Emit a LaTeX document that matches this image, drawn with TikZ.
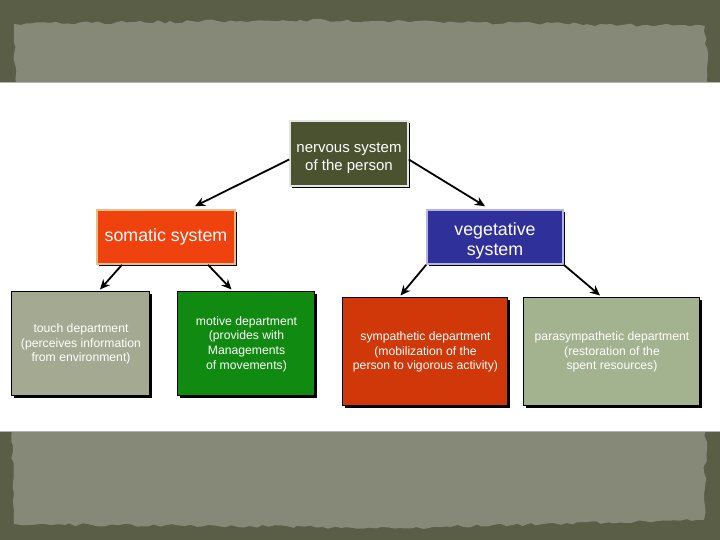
\documentclass[tikz,border=0pt]{standalone}
\usepackage{fontspec}
\setmainfont{Liberation Sans}
\usetikzlibrary{shadows,decorations.pathmorphing,arrows.meta}

\definecolor{frameolive}{HTML}{5A5E47}
\definecolor{paper}{HTML}{868878}
\definecolor{nervousfill}{HTML}{4A5230}
\definecolor{somaticfill}{HTML}{F0420E}
\definecolor{somaticrim}{HTML}{E6BE86}
\definecolor{vegetfill}{HTML}{30309A}
\definecolor{vegetrim}{HTML}{B4B4E6}
\definecolor{touchfill}{HTML}{A3AA91}
\definecolor{motivefill}{HTML}{108A10}
\definecolor{sympfill}{HTML}{D0380A}
\definecolor{parafill}{HTML}{A3B28F}

\tikzset{
    box/.style = {
        rectangle,
        draw        = black,
        line width  = 0.5pt,
        text        = white,
        align       = center,
        inner sep   = 1pt,
        drop shadow = {shadow xshift=0.8pt, shadow yshift=-0.8pt,
                       opacity=1, fill=black},
    },
    bigtext/.style   = {font=\fontsize{8.9}{10}\selectfont},
    midtext/.style   = {font=\fontsize{7.5}{9}\selectfont},
    smalltext/.style = {font=\fontsize{6.1}{7.3}\selectfont},
    link/.style = {->, line width=0.9pt},
    torn/.style = {
        decorate,
        decoration = {random steps, segment length=3pt, amplitude=0.8pt},
    },
}
% pushes the first line of a box a little down
\newcommand{\lowfirst}{\rule{0pt}{10pt}}

\begin{document}
\begin{tikzpicture}[x=0.5pt, y=-0.5pt, >={Stealth[length=5pt,width=4.5pt]}]
  % page is 720 x 540 units, y grows downwards
  \path[use as bounding box] (0,0) rectangle (720,540);
  \pgfmathsetseed{7}

  % frame and paper strips
  \fill[frameolive] (0,0) rectangle (720,540);
  \fill[paper, torn] (16,84) -- (14,24) -- (300,20) -- (705,26) -- (708,84) -- cycle;
  \fill[paper, torn] (12,430) -- (706,430) -- (704,520) -- (400,528) -- (14,524) -- cycle;
  \fill[white] (0,82) rectangle (720,432);
  \draw[gray!60, line width=0.6pt] (0,82.5) -- (720,82.5);
  \draw[gray!60, line width=0.6pt] (0,431.5) -- (720,431.5);

  % boxes
  \node[box, midtext, fill=nervousfill, draw=white!85!nervousfill, line width=0.8pt,
        minimum width=59pt, minimum height=32.5pt]
    (nervous) at (349,153.5) {\lowfirst nervous system\\of the person};
  \node[box, bigtext, fill=somaticfill, draw=somaticrim, line width=0.8pt,
        minimum width=69pt, minimum height=27pt]
    (somatic) at (166,237) {somatic system};
  \node[box, bigtext, fill=vegetfill, draw=vegetrim, line width=0.8pt,
        minimum width=68pt, minimum height=27pt]
    (veget) at (495,237) {\lowfirst vegetative\\system};

  \node[box, smalltext, fill=touchfill, minimum width=69pt, minimum height=52pt]
    (touch) at (81,344)
    {touch department\\(perceives information\\from environment)};
  \node[box, smalltext, fill=motivefill, minimum width=68.5pt, minimum height=52pt]
    (motive) at (246.5,344)
    {motive department\\(provides with\\Managements\\of movements)};
  \node[box, smalltext, fill=sympfill, minimum width=82.5pt, minimum height=54pt]
    (symp) at (425.5,352)
    {sympathetic department\\(mobilization of the\\person to vigorous activity)};
  \node[box, smalltext, fill=parafill, minimum width=88pt, minimum height=54pt]
    (para) at (612,352)
    {parasympathetic department\\(restoration of the\\spent resources)};

  % connectors
  \draw[link] ([yshift=-3pt]nervous.west) -- ([xshift=14.5pt,yshift=1.5pt]somatic.north);
  \draw[link] ([yshift=-3pt]nervous.east) -- ([xshift=-5pt,yshift=1.5pt]veget.north);
  \draw[link] ([xshift=-22pt]somatic.south) -- ([xshift=9.5pt,yshift=1pt]touch.north);
  \draw[link] ([xshift=21pt]somatic.south) -- ([xshift=-7.5pt,yshift=1pt]motive.north);
  \draw[link] (veget.south west) -- ([xshift=-12.5pt,yshift=1pt]symp.north);
  \draw[link] (veget.south east) -- ([xshift=-6pt,yshift=1pt]para.north);
\end{tikzpicture}
\end{document}
